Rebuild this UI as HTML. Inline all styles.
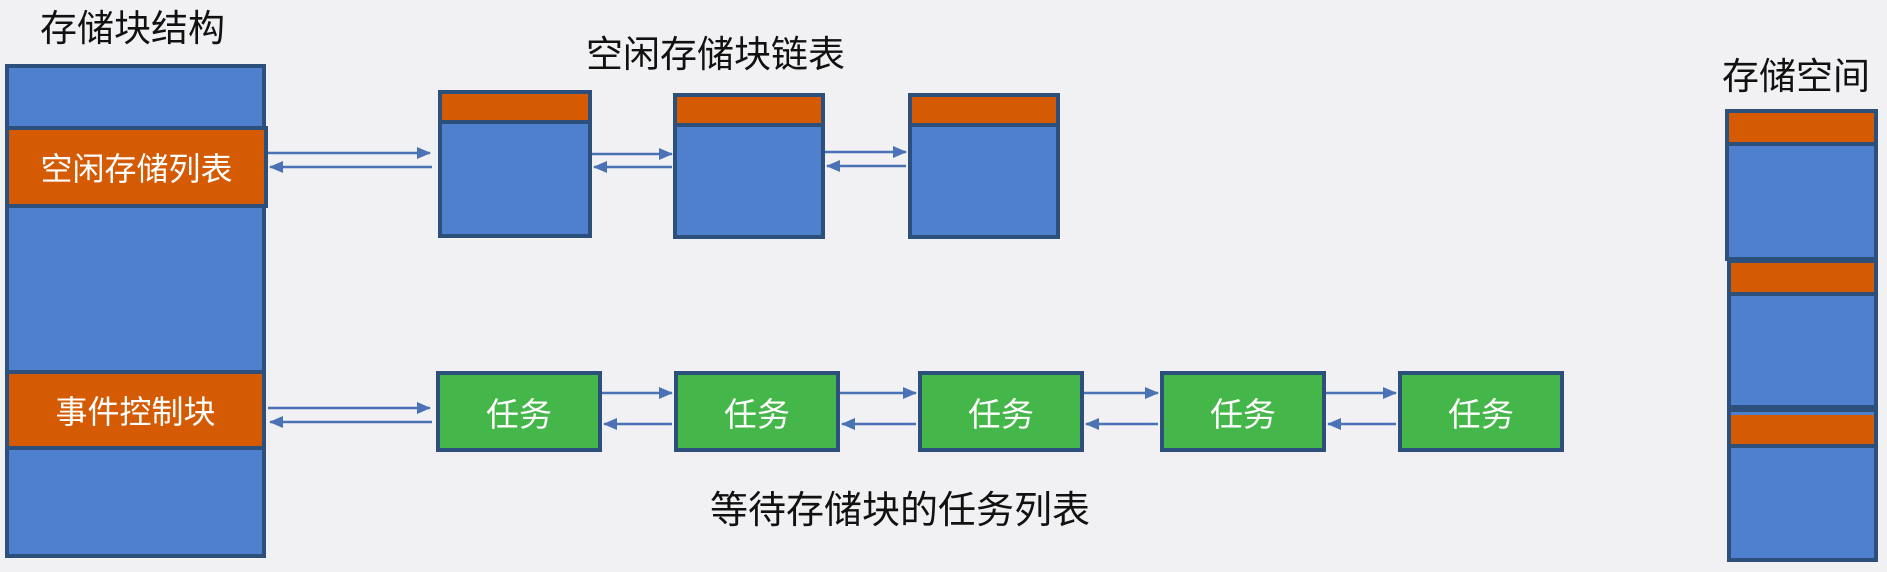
<!DOCTYPE html>
<html><head><meta charset="utf-8"><style>
html,body{margin:0;padding:0;background:#f1f1f3;}
body{width:1887px;height:572px;position:relative;overflow:hidden;font-family:"Liberation Sans","Noto Sans CJK SC",sans-serif;}
.b{position:absolute;box-sizing:border-box;border:4px solid #2c4f7c;background:#4f80cd;}
.o{position:absolute;box-sizing:border-box;background:#d45a03;border:4px solid #2c4f7c;color:#fff;font-size:32px;display:flex;align-items:center;justify-content:center;}
.g{position:absolute;box-sizing:border-box;background:#45b649;border:4px solid #2c4f7c;color:#fff;font-size:33px;display:flex;align-items:center;justify-content:center;}
.t{position:absolute;color:#111;font-size:37px;white-space:nowrap;line-height:1;}
svg{position:absolute;left:0;top:0;}
</style></head><body>
<div class="t" style="left:40px;top:10px;">存储块结构</div>
<div class="t" style="left:586px;top:36px;">空闲存储块链表</div>
<div class="t" style="left:1722px;top:58px;">存储空间</div>
<div class="t" style="left:710px;top:492px;font-size:38px;">等待存储块的任务列表</div>

<div class="b" style="left:5px;top:64px;width:261px;height:494px;"></div>
<div class="o" style="left:5px;top:126px;width:263px;height:82px;">空闲存储列表</div>
<div class="o" style="left:5px;top:370px;width:261px;height:80px;">事件控制块</div>

<div class="b" style="left:438px;top:90px;width:154px;height:148px;"></div>
<div class="o" style="left:442px;top:94px;width:146px;height:30px;border:none;border-bottom:4px solid #2c4f7c;"></div>
<div class="b" style="left:673px;top:93px;width:152px;height:146px;"></div>
<div class="o" style="left:677px;top:97px;width:144px;height:30px;border:none;border-bottom:4px solid #2c4f7c;"></div>
<div class="b" style="left:908px;top:93px;width:152px;height:146px;"></div>
<div class="o" style="left:912px;top:97px;width:144px;height:30px;border:none;border-bottom:4px solid #2c4f7c;"></div>

<div class="g" style="left:436px;top:371px;width:166px;height:81px;">任务</div>
<div class="g" style="left:674px;top:371px;width:166px;height:81px;">任务</div>
<div class="g" style="left:918px;top:371px;width:166px;height:81px;">任务</div>
<div class="g" style="left:1160px;top:371px;width:166px;height:81px;">任务</div>
<div class="g" style="left:1398px;top:371px;width:166px;height:81px;">任务</div>

<div class="b" style="left:1725px;top:109px;width:153px;height:152px;"></div>
<div class="o" style="left:1729px;top:113px;width:145px;height:33px;border:none;border-bottom:4px solid #2c4f7c;"></div>
<div class="b" style="left:1727px;top:259px;width:151px;height:150px;"></div>
<div class="o" style="left:1731px;top:263px;width:143px;height:33px;border:none;border-bottom:4px solid #2c4f7c;"></div>
<div class="b" style="left:1727px;top:408px;width:151px;height:154px;"></div>
<div class="o" style="left:1731px;top:415px;width:143px;height:33px;border:none;border-bottom:4px solid #2c4f7c;"></div>

<svg width="1887" height="572">
<defs>
<marker id="a2" markerWidth="14" markerHeight="12" refX="13" refY="6" orient="auto" markerUnits="userSpaceOnUse"><path d="M0,0 L14,6 L0,12 z" fill="#4a72b5"/></marker>
</defs>
<g stroke="#4a72b5" stroke-width="2.5" fill="none">
<line x1="268" y1="153" x2="430" y2="153" marker-end="url(#a2)"/>
<line x1="432" y1="167" x2="270" y2="167" marker-end="url(#a2)"/>
<line x1="592" y1="154" x2="672" y2="154" marker-end="url(#a2)"/>
<line x1="672" y1="167" x2="594" y2="167" marker-end="url(#a2)"/>
<line x1="825" y1="152" x2="906" y2="152" marker-end="url(#a2)"/>
<line x1="906" y1="166" x2="827" y2="166" marker-end="url(#a2)"/>

<line x1="268" y1="408" x2="430" y2="408" marker-end="url(#a2)"/>
<line x1="432" y1="422" x2="270" y2="422" marker-end="url(#a2)"/>
<line x1="602" y1="393" x2="672" y2="393" marker-end="url(#a2)"/>
<line x1="672" y1="424" x2="604" y2="424" marker-end="url(#a2)"/>
<line x1="840" y1="393" x2="916" y2="393" marker-end="url(#a2)"/>
<line x1="916" y1="424" x2="842" y2="424" marker-end="url(#a2)"/>
<line x1="1084" y1="393" x2="1158" y2="393" marker-end="url(#a2)"/>
<line x1="1158" y1="424" x2="1086" y2="424" marker-end="url(#a2)"/>
<line x1="1326" y1="393" x2="1396" y2="393" marker-end="url(#a2)"/>
<line x1="1396" y1="424" x2="1328" y2="424" marker-end="url(#a2)"/>
</g>
</svg>
</body></html>
